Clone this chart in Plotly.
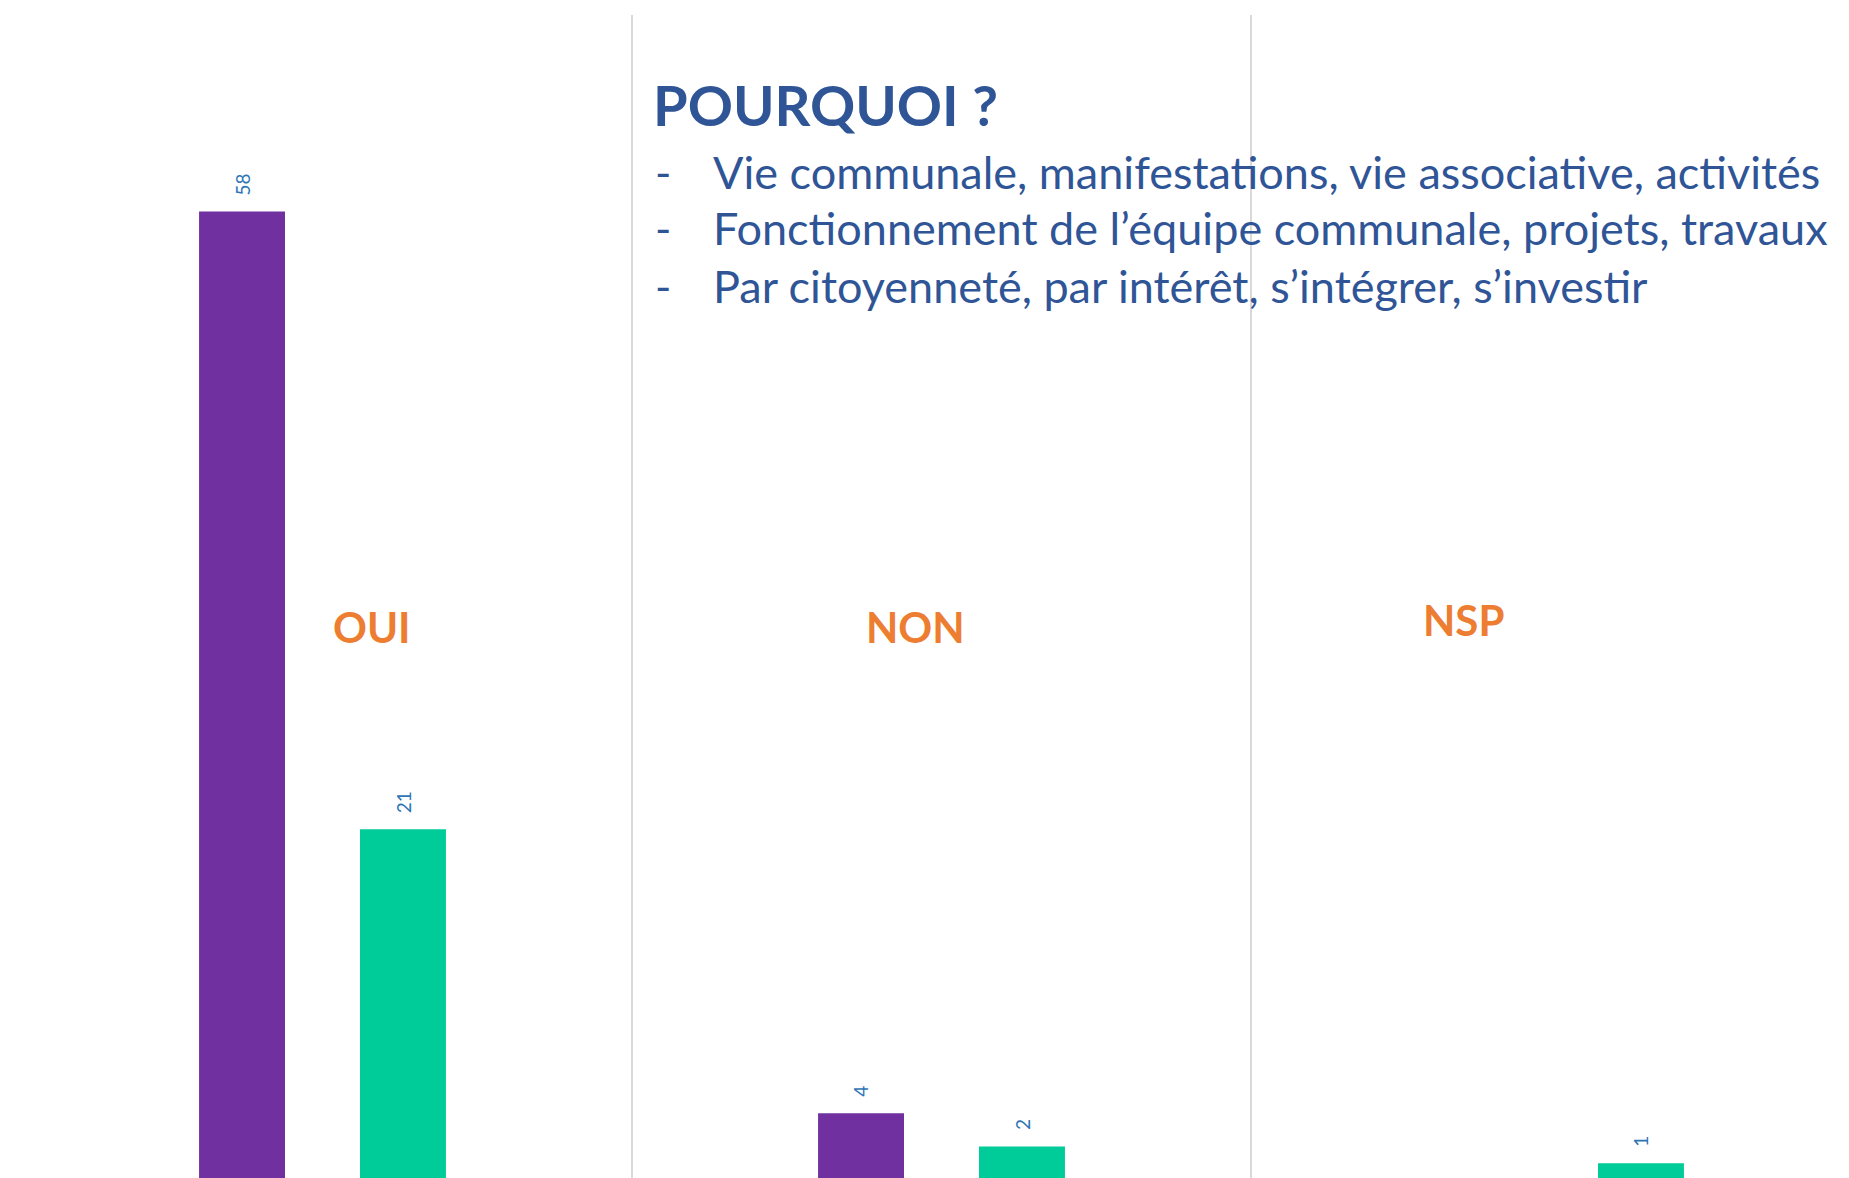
import plotly.graph_objects as go

categories = ["OUI", "NON", "NSP"]
serie1 = [58, 4, None]
serie2 = [21, 2, 1]
serie_names = ["Série 1", "Série 2"]
title_text = "POURQUOI ?"
bullets = [
    "Vie communale, manifestations, vie associative, activités",
    "Fonctionnement de l’équipe communale, projets, travaux",
    "Par citoyenneté, par intérêt, s’intégrer, s’investir",
]

# page body has an 8px margin: figure starts at viewport (8, 8)
OFF = 8
W, H = 1849, 1178
ML, MT = 13 - OFF, 15 - OFF
PW = W - ML
PH = H - MT
CATW = 619.0            # pixels per category
PPU = 16.7              # pixels per value unit
ZERO_Y = 1180           # viewport y of value 0

def px(x):
    return (x - 13) / PW

def py(y):
    return (OFF + H - y) / PH

PURPLE = "#7030A0"
GREEN = "#00CC99"
BLUE = "#2F5597"
LABEL = "#2E75B6"
ORANGE = "#ED7D31"
FONT = "Lato"

fig = go.Figure()
for name, vals, col in [(serie_names[0], serie1, PURPLE), (serie_names[1], serie2, GREEN)]:
    fig.add_trace(go.Bar(x=categories, y=vals, name=name, marker_color=col,
                         marker_line_width=0, cliponaxis=False))

ann = []
# value labels above bars, rotated
for k, vals in enumerate([serie1, serie2]):
    shift = (-1 if k == 0 else 1) * 80.5
    for c, v in zip(categories, vals):
        if v is None:
            continue
        ann.append(dict(text=str(v), x=c, y=v, xref="x", yref="y", xanchor="center",
                        yanchor="bottom", textangle=-90, showarrow=False, xshift=shift,
                        yshift=14, font=dict(family=FONT, size=19, color=LABEL)))

ann.append(dict(text="<b>" + title_text + "</b>", x=px(651), y=py(105), xref="paper", yref="paper",
                xanchor="left", yanchor="middle", showarrow=False,
                font=dict(family=FONT, size=56, color=BLUE)))
for i, b in enumerate(bullets):
    yy = [172, 228, 286][i]
    ann.append(dict(text="-", x=px(653), y=py(yy), xref="paper", yref="paper",
                    xanchor="left", yanchor="middle", showarrow=False,
                    font=dict(family=FONT, size=44, color=BLUE)))
    ann.append(dict(text=b, x=px(711), y=py(yy), xref="paper", yref="paper",
                    xanchor="left", yanchor="middle", showarrow=False,
                    font=dict(family=FONT, size=45, color=BLUE)))
for cat, (cx, cy) in zip(categories, [(372, 627), (915, 627), (1463, 620)]):
    ann.append(dict(text="<b>" + cat + "</b>", x=px(cx), y=py(cy), xref="paper", yref="paper",
                    xanchor="center", yanchor="middle", showarrow=False,
                    font=dict(family=FONT, size=42, color=ORANGE)))

fig.update_layout(
    width=W, height=H,
    margin=dict(l=ML, r=0, t=MT, b=0, pad=0),
    paper_bgcolor="white", plot_bgcolor="white",
    barmode="group", bargap=0.48, bargroupgap=0.466,
    showlegend=False,
    annotations=ann,
)
fig.update_xaxes(type="category", range=[-0.5, -0.5 + PW / CATW], tickson="boundaries",
                 showgrid=True, gridcolor="#D9D9D9", gridwidth=2,
                 showticklabels=False, ticks="", showline=False, zeroline=False)
fig.update_yaxes(range=[(ZERO_Y - (OFF + H)) / PPU, (ZERO_Y - 15) / PPU],
                 showgrid=False, showticklabels=False,
                 zeroline=False, showline=False, ticks="")

fig.write_html("out.html")
